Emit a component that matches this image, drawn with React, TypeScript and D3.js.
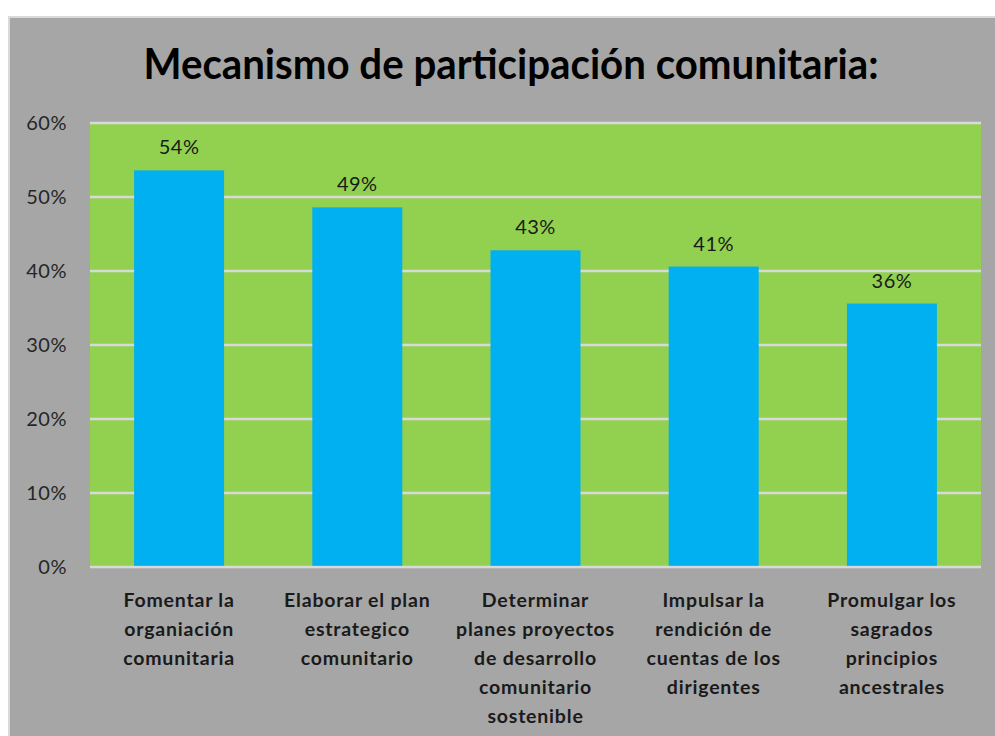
import React from "react";
import * as d3 from "d3";

const categories: string[][] = [
  ["Fomentar la", "organiación", "comunitaria"],
  ["Elaborar el plan", "estrategico", "comunitario"],
  ["Determinar", "planes proyectos", "de desarrollo", "comunitario", "sostenible"],
  ["Impulsar la", "rendición de", "cuentas de los", "dirigentes"],
  ["Promulgar los", "sagrados", "principios", "ancestrales"],
];
const values: number[] = [0.536, 0.486, 0.428, 0.406, 0.356];
const valueLabels: string[] = ["54%", "49%", "43%", "41%", "36%"];
const yTicks: number[] = [0, 0.1, 0.2, 0.3, 0.4, 0.5, 0.6];
const title = "Mecanismo de participación comunitaria:";

const W = 995;
const H = 736;
const plot = { left: 90, right: 981, top: 123, bottom: 567 };
const FONT = "Lato, 'Liberation Sans', sans-serif";

export default function App() {
  const x = d3
    .scaleBand<number>()
    .domain(d3.range(values.length))
    .range([plot.left, plot.right])
    .paddingInner(0.495)
    .paddingOuter(0.2475);
  const y = d3.scaleLinear().domain([0, 0.6]).range([plot.bottom, plot.top]);
  const fmt = d3.format(".0%");

  return (
    <svg
      width={W}
      height={H}
      style={{ position: "absolute", left: 0, top: 0, display: "block" }}
    >
      <rect x={0} y={0} width={W} height={H} fill="#ffffff" />
      <rect x={9} y={17} width={W} height={H} fill="#a6a6a6" stroke="#d9d9d9" strokeWidth={2} />
      <text
        x={511}
        y={79}
        textAnchor="middle"
        fontFamily={FONT}
        fontWeight="bold"
        fontSize={42}
        fill="#000"
        textLength={735}
        lengthAdjust="spacingAndGlyphs"
      >
        {title}
      </text>
      <rect
        x={plot.left}
        y={plot.top}
        width={plot.right - plot.left}
        height={plot.bottom - plot.top}
        fill="#92d050"
      />
      {yTicks.map((t) => (
        <g key={t}>
          <line
            x1={plot.left}
            x2={plot.right}
            y1={y(t)}
            y2={y(t)}
            stroke="#d9d9d9"
            strokeWidth={2.5}
          />
          <text
            x={67}
            y={y(t) + 7}
            textAnchor="end"
            fontFamily={FONT}
            fontSize={20}
            letterSpacing={0.5}
            fill="#262626"
          >
            {fmt(t)}
          </text>
        </g>
      ))}
      {values.map((v, i) => (
        <g key={i}>
          <rect
            x={x(i)!}
            y={y(v)}
            width={x.bandwidth()}
            height={y(0) - y(v) - 1.25}
            fill="#00b0f0"
          />
          <text
            x={x(i)! + x.bandwidth() / 2}
            y={y(v) - 16}
            textAnchor="middle"
            fontFamily={FONT}
            fontSize={20}
            letterSpacing={0.5}
            fill="#1a1a1a"
          >
            {valueLabels[i]}
          </text>
          {categories[i].map((line, j) => (
            <text
              key={j}
              x={x(i)! + x.bandwidth() / 2}
              y={607 + j * 29}
              textAnchor="middle"
              fontFamily={FONT}
              fontWeight="bold"
              fontSize={19.5}
              letterSpacing={0.8}
              fill="#1a1a1a"
            >
              {line}
            </text>
          ))}
        </g>
      ))}
    </svg>
  );
}
